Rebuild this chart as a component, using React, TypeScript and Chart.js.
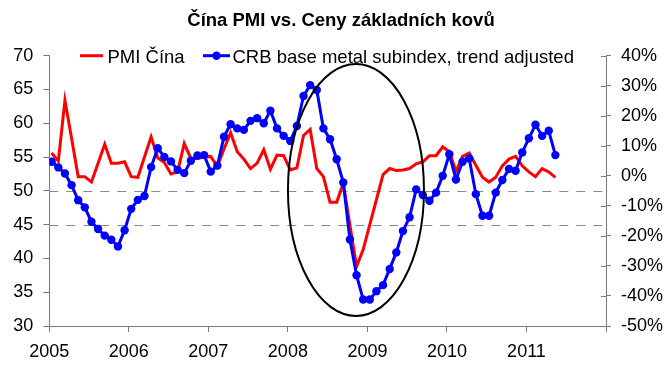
import React, { useEffect, useRef } from 'react';
import { Chart, registerables } from 'chart.js';

Chart.register(...registerables);

// ---- data ----
const TITLE = 'Čína PMI vs. Ceny základních kovů';
const SERIES_PMI = 'PMI Čína';
const SERIES_CRB = 'CRB base metal subindex, trend adjusted';

const START_YEAR = 2005; // first monthly observation: Jan 2005
const MONTH_POS = 0.36; // position of the observation inside its month (fraction of a month)
const X_MIN = 2005;
const X_MAX = 2012;

// monthly, Jan 2005 .. May 2011 (left axis)
const pmiChina = [
  55.6, 54.4, 63.4, 57.8, 52.1, 52.1, 51.3, 54.1, 56.9, 54.1, 54.1, 54.3,
  52.1, 52.0, 55.0, 58.0, 54.9, 54.2, 52.5, 52.8, 57.0, 54.8, 54.8, 55.0,
  55.1, 53.6, 56.2, 58.6, 55.8, 54.7, 53.3, 54.1, 56.1, 53.2, 55.3, 55.2,
  53.1, 53.4, 58.2, 59.1, 53.3, 52.1, 48.3, 48.3, 51.1, 44.9, 38.8, 41.3,
  45.0, 48.7, 52.4, 53.3, 53.0, 53.1, 53.3, 54.0, 54.3, 55.2, 55.2, 56.5,
  55.8, 52.9, 55.1, 55.6, 53.8, 52.0, 51.3, 52.0, 53.7, 54.7, 55.1, 53.7,
  52.8, 52.1, 53.3, 52.8, 52.0,
];

// monthly, Jan 2005 .. May 2011, percent (right axis)
const crbBaseMetal = [
  4.7, 2.8, 0.8, -3.1, -8.1, -10.5, -15.3, -17.7, -19.9, -21.3, -23.5, -18.1,
  -11.0, -8.0, -6.7, 2.9, 9.2, 6.3, 4.8, 2.0, 0.9, 5.0, 6.8, 6.9,
  1.4, 3.4, 13.0, 17.2, 15.8, 15.3, 18.3, 19.2, 17.5, 21.7, 15.8, 13.3,
  11.6, 16.6, 26.6, 30.2, 28.6, 15.8, 12.2, 5.5, -2.2, -21.2, -33.1, -41.2,
  -41.2, -38.4, -36.4, -31.0, -25.5, -18.4, -13.8, -4.5, -6.4, -8.3, -5.6, 0.0,
  7.2, -1.2, 4.7, 5.8, -6.1, -13.3, -13.3, -5.6, -1.4, 2.3, 1.7, 7.8,
  12.5, 17.0, 13.3, 15.0, 6.9,
];

const LEFT_MIN = 30;
const LEFT_MAX = 70;
const LEFT_STEP = 5;
const RIGHT_MIN = -50;
const RIGHT_MAX = 40;
const RIGHT_STEP = 10;
const REF_LINES = [50, 45]; // dashed reference lines, left axis values
// highlight ellipse (centre in year / left-axis units, radii in same units)
const ELLIPSE = { cx: 2008.856, cy: 50.13, rx: 0.855, ry: 18.64 };

// ---- styles ----
const FONT = '"Liberation Sans", Arial, Helvetica, sans-serif';
const RED = '#ff0000';
const BLUE = '#0000ff';
const AXIS = '#7a7a7a';

const toPoints = (arr: number[]) =>
  arr.map((v, i) => ({ x: START_YEAR + (i + MONTH_POS) / 12, y: v }));

const decorPlugin = {
  id: 'decor',
  beforeDatasetsDraw(chart: any) {
    const { ctx, chartArea } = chart;
    const y = chart.scales.y;
    ctx.save();
    ctx.strokeStyle = '#8a8a8a';
    ctx.lineWidth = 1;
    ctx.setLineDash([9, 8]);
    REF_LINES.forEach((v) => {
      const py = Math.round(y.getPixelForValue(v)) + 0.5;
      ctx.beginPath();
      ctx.moveTo(chartArea.left, py);
      ctx.lineTo(chartArea.right, py);
      ctx.stroke();
    });
    ctx.restore();
  },
  afterDatasetsDraw(chart: any) {
    const { ctx, chartArea } = chart;
    const x = chart.scales.x;
    const y = chart.scales.y;
    const y1 = chart.scales.y1;
    // ellipse
    const cx = x.getPixelForValue(ELLIPSE.cx);
    const cy = y.getPixelForValue(ELLIPSE.cy);
    const rx = Math.abs(x.getPixelForValue(ELLIPSE.cx + ELLIPSE.rx) - cx);
    const ry = Math.abs(y.getPixelForValue(ELLIPSE.cy + ELLIPSE.ry) - cy);
    ctx.save();
    ctx.strokeStyle = '#000';
    ctx.lineWidth = 2;
    ctx.beginPath();
    ctx.ellipse(cx, cy, rx, ry, 0, 0, Math.PI * 2);
    ctx.stroke();
    // inner half of right-axis ticks (ticks cross the axis)
    ctx.strokeStyle = AXIS;
    ctx.lineWidth = 1;
    y1.ticks.forEach((t: any) => {
      const py = Math.round(y1.getPixelForValue(t.value)) + 0.5;
      ctx.beginPath();
      ctx.moveTo(chartArea.right - 5, py);
      ctx.lineTo(chartArea.right, py);
      ctx.stroke();
    });
    ctx.restore();
  },
  afterDraw(chart: any) {
    const { ctx, chartArea } = chart;
    const ly = chartArea.top;
    const base = ly + 7.6;
    ctx.save();
    ctx.font = `18.5px ${FONT}`;
    ctx.fillStyle = '#000';
    ctx.textBaseline = 'alphabetic';
    ctx.textAlign = 'left';
    // PMI item
    ctx.strokeStyle = RED;
    ctx.lineWidth = 3;
    ctx.beginPath();
    ctx.moveTo(80, ly);
    ctx.lineTo(103, ly);
    ctx.stroke();
    ctx.fillText(SERIES_PMI, 107.5, base);
    // CRB item
    ctx.strokeStyle = BLUE;
    ctx.beginPath();
    ctx.moveTo(203, ly);
    ctx.lineTo(230, ly);
    ctx.stroke();
    ctx.fillStyle = BLUE;
    ctx.beginPath();
    ctx.arc(216.5, ly, 4.2, 0, Math.PI * 2);
    ctx.fill();
    ctx.fillStyle = '#000';
    ctx.fillText(SERIES_CRB, 232.5, base);
    ctx.restore();
  },
};

export default function App() {
  const canvasRef = useRef<HTMLCanvasElement | null>(null);

  useEffect(() => {
    document.body.style.margin = '0';
    const canvas = canvasRef.current;
    if (!canvas) return;
    const tickFont = { family: FONT, size: 18 };
    const chart = new Chart(canvas, {
      type: 'line',
      data: {
        datasets: [
          {
            label: SERIES_PMI,
            data: toPoints(pmiChina),
            yAxisID: 'y',
            borderColor: RED,
            backgroundColor: RED,
            borderWidth: 3,
            pointRadius: 0,
            tension: 0,
            order: 2,
          },
          {
            label: SERIES_CRB,
            data: toPoints(crbBaseMetal),
            yAxisID: 'y1',
            borderColor: BLUE,
            backgroundColor: BLUE,
            borderWidth: 3,
            pointRadius: 4.2,
            pointBorderWidth: 0,
            pointBackgroundColor: BLUE,
            tension: 0,
            order: 1,
          },
        ],
      },
      options: {
        animation: false,
        responsive: true,
        maintainAspectRatio: false,
        layout: { padding: { left: 11, right: 0, top: 0, bottom: 0 } },
        plugins: {
          legend: { display: false },
          tooltip: { enabled: false },
          title: {
            display: true,
            text: TITLE,
            color: '#000',
            font: { family: FONT, size: 18.5, weight: 'bold' },
            padding: { top: 10, bottom: 23.5 },
          },
        },
        scales: {
          x: {
            type: 'linear',
            min: X_MIN,
            max: X_MAX,
            ticks: {
              stepSize: 1,
              autoSkip: false,
              maxRotation: 0,
              color: '#000',
              font: tickFont,
              padding: 9,
              callback: (v: any) => (Number(v) < X_MAX ? String(v) : ''),
            },
            grid: { drawOnChartArea: false, tickLength: 6, tickColor: AXIS, color: AXIS },
            border: { color: AXIS, width: 1 },
            afterFit: (s: any) => {
              s.height = 47;
            },
          },
          y: {
            position: 'left',
            min: LEFT_MIN,
            max: LEFT_MAX,
            ticks: { stepSize: LEFT_STEP, color: '#000', font: tickFont, padding: 10 },
            grid: { drawOnChartArea: false, tickLength: 6, tickColor: AXIS, color: AXIS },
            border: { color: AXIS, width: 1 },
            afterFit: (s: any) => {
              s.width = 38.3;
            },
          },
          y1: {
            position: 'right',
            min: RIGHT_MIN,
            max: RIGHT_MAX,
            ticks: {
              stepSize: RIGHT_STEP,
              color: '#000',
              font: tickFont,
              padding: 10,
              callback: (v: any) => `${v}%`,
            },
            grid: { drawOnChartArea: false, tickLength: 5, tickColor: AXIS, color: AXIS },
            border: { color: AXIS, width: 1 },
            afterFit: (s: any) => {
              s.width = 65;
            },
          },
        },
      },
      plugins: [decorPlugin],
    });
    return () => chart.destroy();
  }, []);

  return (
    <div style={{ width: 671, height: 373, position: 'relative' }}>
      <canvas ref={canvasRef} />
    </div>
  );
}
